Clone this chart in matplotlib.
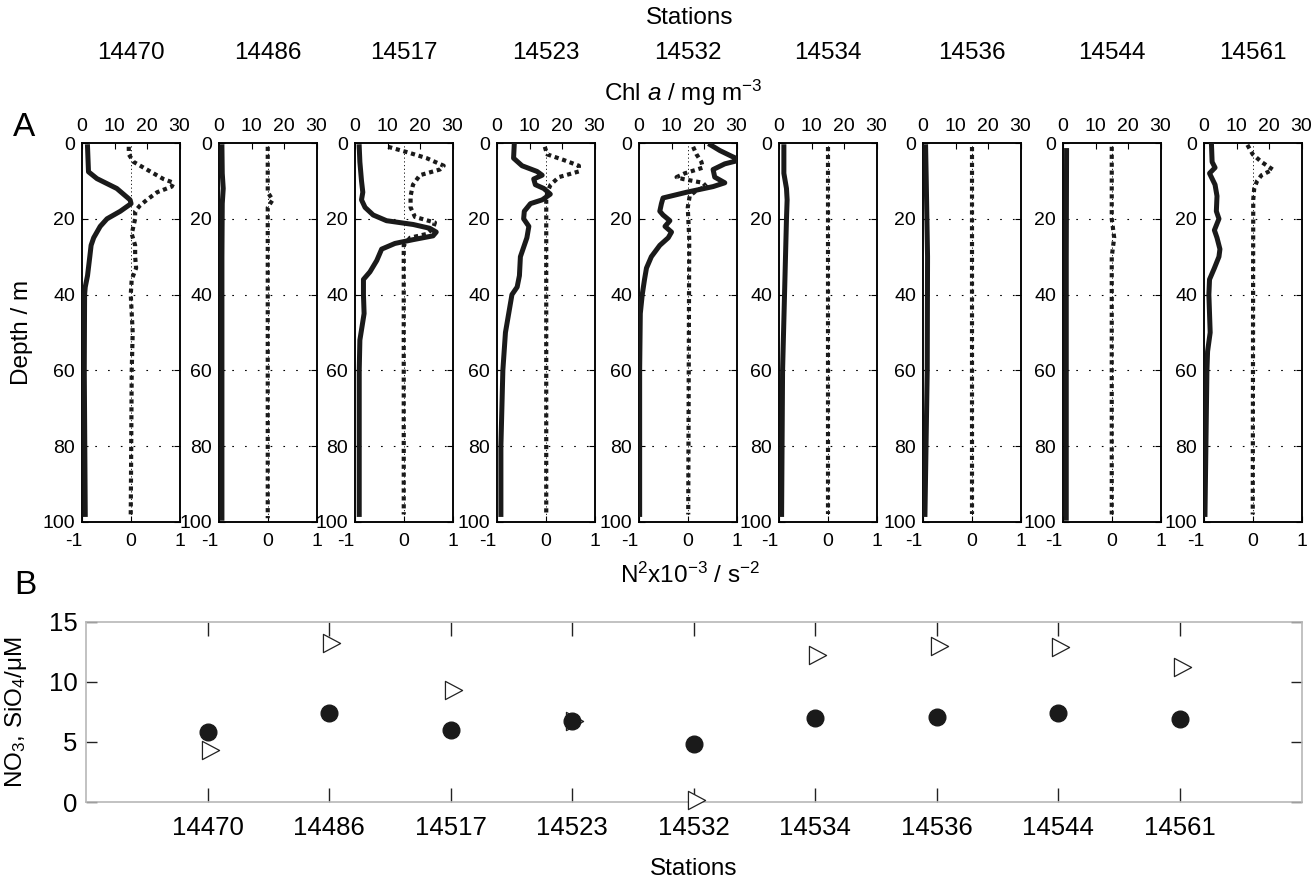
import matplotlib
matplotlib.use("Agg")
import matplotlib.pyplot as plt
from matplotlib.path import Path

plt.rcParams['font.family'] = ['Liberation Sans', 'DejaVu Sans']
plt.rcParams['mathtext.fontset'] = 'custom'
plt.rcParams['mathtext.rm'] = 'Liberation Sans'
plt.rcParams['mathtext.it'] = 'Liberation Sans:italic'

# ---------------- data ----------------
stations = ['14470', '14486', '14517', '14523', '14532', '14534', '14536', '14544', '14561']

chl_z_14470 = [1, 7.6, 9.4, 12, 15, 16, 18, 20, 22, 25, 27, 30, 35, 38, 40, 60, 98]
chl_14470 = [1.7, 2.0, 4.6, 10.7, 14.8, 15.1, 11.8, 7.7, 5.6, 3.6, 2.8, 2.4, 1.7, 1.0, 0.8, 0.7, 1.0]
n2_z_14470 = [1, 3, 5, 7, 9.5, 10.5, 11.5, 13, 15, 16.5, 18, 20, 24, 27, 30, 33, 36, 40, 50, 60, 98]
n2_14470 = [-0.04, -0.04, 0.06, 0.33, 0.67, 0.88, 0.84, 0.54, 0.33, 0.19, 0.09, 0.09, 0.02, 0.09, 0.09, 0.11, 0.02, 0.0, 0.04, 0.02, 0.0]

chl_z_14486 = [1, 8, 12, 16, 30, 50, 99]
chl_14486 = [0.9, 1.0, 1.3, 1.0, 0.9, 0.9, 0.9]
n2_z_14486 = [1, 13, 15, 17, 30, 99]
n2_14486 = [0.0, 0.0, 0.1, 0.0, 0.0, 0.0]

chl_z_14517 = [1, 5, 10, 13, 15, 17, 19, 20.5, 21.5, 22.5, 23.5, 24.5, 25.5, 26.5, 28, 31, 34, 36, 40, 45, 52, 60, 80, 98]
chl_14517 = [1.3, 1.5, 2.0, 2.4, 2.0, 3.1, 5.6, 9.7, 17.9, 23, 25, 24, 17.9, 12.3, 8.2, 6.7, 4.6, 2.6, 2.6, 2.8, 1.5, 1.3, 1.3, 1.3]
n2_z_14517 = [1, 2.5, 4, 6, 7, 8.5, 11, 14, 17, 19.5, 21, 22.5, 24, 25, 27, 30, 50, 98]
n2_14517 = [-0.32, 0.09, 0.47, 0.82, 0.74, 0.33, 0.19, 0.14, 0.14, 0.23, 0.64, 0.6, 0.47, 0.13, 0.0, 0.0, 0.0, 0.0]

chl_z_14523 = [0.5, 4, 6, 7.5, 8.5, 9.5, 11, 12, 13.5, 15, 16, 18, 20, 22, 25, 30, 35, 38, 40, 45, 50, 60, 70, 80, 98]
chl_14523 = [5.3, 5.1, 7.7, 12.3, 13.9, 11.3, 11.8, 14.4, 16.4, 13.9, 10.3, 8.4, 8.2, 9.8, 9.2, 7.2, 6.9, 6.2, 4.6, 3.6, 2.6, 1.8, 1.5, 1.2, 1.2]
n2_z_14523 = [1, 3, 4.5, 6, 7.5, 9, 11, 13, 15, 98]
n2_14523 = [-0.02, 0.03, 0.37, 0.68, 0.68, 0.27, 0.1, 0.03, 0.01, 0.01]

chl_z_14532 = [0.5, 2, 3.5, 4.5, 5.5, 7, 9, 10.5, 11.5, 13, 14.5, 16, 18, 19, 20.5, 22, 23.5, 25, 27, 30, 33, 36, 40, 45, 60, 98]
chl_14532 = [22, 24.9, 28.5, 31, 26.4, 22.8, 23.3, 26.4, 22.8, 14.6, 7.4, 6.9, 6.4, 7.4, 9.5, 8, 10, 9, 6.4, 3.8, 2.3, 1.7, 1.0, 0.4, 0.2, 0.2]
n2_z_14532 = [1, 3, 5, 6.5, 8, 9, 9.5, 10.5, 11.5, 12.5, 14, 17, 25, 98]
n2_14532 = [0.11, 0.18, 0.28, 0.31, -0.06, -0.23, -0.1, 0.31, 0.38, 0.18, 0.04, 0.0, 0.03, 0.01]

chl_z_14534 = [1, 8, 12, 15, 20, 40, 60, 98]
chl_14534 = [1.5, 1.5, 2.3, 2.5, 2.3, 1.7, 1.1, 0.8]
n2_z_14534 = [1, 98]
n2_14534 = [0.0, 0.0]

chl_z_14536 = [1, 10, 30, 60, 98]
chl_14536 = [0.8, 1.0, 1.4, 1.3, 0.6]
n2_z_14536 = [1, 98]
n2_14536 = [0.0, 0.0]

chl_z_14544 = [2, 30, 60, 99]
chl_14544 = [1.1, 1.0, 1.0, 1.0]
n2_z_14544 = [1, 20, 25, 30, 98]
n2_14544 = [0.0, 0.0, 0.05, 0.0, 0.0]

chl_z_14561 = [0.5, 5, 6.5, 8, 11, 14, 18, 20, 23, 25, 28, 30, 33, 36, 40, 50, 55, 60, 98]
chl_14561 = [2.3, 2.5, 3.4, 1.7, 3.4, 4.0, 3.8, 4.6, 3.2, 4.0, 4.9, 4.6, 3.2, 1.7, 1.5, 1.9, 1.1, 0.9, 0.3]
n2_z_14561 = [0.5, 3, 5, 7, 8.5, 10, 12, 15, 98]
n2_14561 = [-0.11, 0.0, 0.18, 0.41, 0.18, 0.09, 0.03, 0.01, 0.0]

chl_profiles = [(chl_z_14470, chl_14470), (chl_z_14486, chl_14486), (chl_z_14517, chl_14517),
                (chl_z_14523, chl_14523), (chl_z_14532, chl_14532), (chl_z_14534, chl_14534),
                (chl_z_14536, chl_14536), (chl_z_14544, chl_14544), (chl_z_14561, chl_14561)]
n2_profiles = [(n2_z_14470, n2_14470), (n2_z_14486, n2_14486), (n2_z_14517, n2_14517),
               (n2_z_14523, n2_14523), (n2_z_14532, n2_14532), (n2_z_14534, n2_14534),
               (n2_z_14536, n2_14536), (n2_z_14544, n2_14544), (n2_z_14561, n2_14561)]

no3 = [5.8, 7.4, 6.0, 6.7, 4.8, 7.0, 7.1, 7.4, 6.9]
sio4 = [4.3, 13.2, 9.3, 6.7, 0.2, 12.2, 13.0, 12.9, 11.2]

chl_ticks = [0, 10, 20, 30]
n2_ticks = [-1, 0, 1]
n2_ticklabels = ['-1', '0', '1']
depth_ticks = [0, 20, 40, 60, 80, 100]

# ---------------- layout ----------------
W, H = 1311, 883
fig = plt.figure(figsize=(W / 100, H / 100), dpi=100)

def fx(px):
    return px / W

def fy(py):
    return 1 - py / H

lefts = [82, 219, 355, 497, 639, 779, 923, 1063, 1204]
aw = 97.5
top_px, bot_px = 143, 522

grid_style = dict(color='black', lw=0.8, linestyle=(0, (1.5, 10)), zorder=1)

for i, st in enumerate(stations):
    ax = fig.add_axes([fx(lefts[i]), fy(bot_px), fx(aw), (bot_px - top_px) / H])
    ax.set_xlim(-1, 1)
    ax.set_ylim(100, 0)
    ax.set_xticks(n2_ticks)
    ax.set_xticklabels(n2_ticklabels)
    ax.set_yticks(depth_ticks)
    ax.tick_params(axis='x', direction='in', length=4, width=0.8, labelsize=14, pad=8)
    ax.tick_params(axis='y', direction='in', length=4, width=0.8, labelsize=14, pad=5, right=True)
    for lab in ax.get_xticklabels():
        if lab.get_text() == '-1':
            lab.set_horizontalalignment('right')
    for sp in ax.spines.values():
        sp.set_linewidth(1.1)
    # grid
    for d in [20, 40, 60, 80]:
        ax.axhline(d, **grid_style)
    ax.axvline(0, color='black', lw=0.6, linestyle=(0, (1.5, 3)), zorder=1)
    # N2 dotted
    z, v = n2_profiles[i]
    ax.plot(v, z, color='#1a1a1a', lw=3.0, linestyle=(0, (1, 0.9)),
            dash_capstyle='butt', zorder=3)
    # Chl solid on top axis
    ax2 = ax.twiny()
    ax2.set_xlim(0, 30)
    ax2.set_xticks(chl_ticks)
    ax2.tick_params(axis='x', direction='in', length=4, width=0.8, labelsize=14, pad=6)
    for sp in ax2.spines.values():
        sp.set_linewidth(1.1)
    z, v = chl_profiles[i]
    ax2.plot(v, z, color='#1a1a1a', lw=3.6, solid_joinstyle='round', zorder=4)
    # station label
    fig.text(fx(lefts[i] + aw / 2), fy(53), st, ha='center', va='center', fontsize=17.5)

fig.text(fx(690), fy(18), 'Stations', ha='center', va='center', fontsize=17.5)
fig.text(fx(683), fy(93), r'Chl $\mathit{a}$ / mg m$^{-3}$', ha='center', va='center', fontsize=17.5)
fig.text(fx(690), fy(575), r'N$^2$x10$^{-3}$ / s$^{-2}$', ha='center', va='center', fontsize=17.5)
fig.text(fx(24), fy(128), 'A', ha='center', va='center', fontsize=24)
fig.text(fx(25), fy(585), 'B', ha='center', va='center', fontsize=24)
fig.text(fx(22), fy(332), 'Depth / m', ha='center', va='center', rotation=90, fontsize=17.5)

# ---------------- panel B ----------------
# right-pointing open triangle, anchored near its centroid (marker shape only)
tri_marker = Path([(-0.545, -0.82), (1.0, 0.0), (-0.545, 0.82), (-0.545, -0.82)],
                  [Path.MOVETO, Path.LINETO, Path.LINETO, Path.CLOSEPOLY])

bx = fig.add_axes([fx(86), fy(802), fx(1301.5 - 86), (802 - 621.5) / H])
xpos = list(range(1, len(stations) + 1))
bx.plot(xpos, sio4, linestyle='none', marker=tri_marker, markersize=16, markerfacecolor='white',
        markeredgecolor='#222222', markeredgewidth=0.9, zorder=3, clip_on=False)
bx.plot(xpos, no3, linestyle='none', marker='o', markersize=12, markerfacecolor='#1a1a1a',
        markeredgecolor='#1a1a1a', zorder=4, clip_on=False)
bx.set_xlim(0, 10)
bx.set_ylim(0, 15)
bx.set_xticks(xpos)
bx.set_xticklabels(stations)
bx.set_yticks([0, 5, 10, 15])
bx.tick_params(axis='x', direction='in', length=10, width=1.0, color='#222222',
               top=True, labelsize=18.5, pad=10)
bx.tick_params(axis='y', direction='in', length=8, width=1.0, color='#222222',
               right=True, labelsize=18.5, pad=6)
for sp in bx.spines.values():
    sp.set_color('#b8b8b8')
    sp.set_linewidth(1.2)
bx.set_ylabel('NO$_3$, SiO$_4$/μM', fontsize=17.5, labelpad=4)
bx.yaxis.set_label_coords(fx(29 - 86) / fx(1301.5 - 86), 0.5)
fig.text(fx(694), fy(869), 'Stations', ha='center', va='center', fontsize=17.5)

fig.savefig('out.png', dpi=100)
